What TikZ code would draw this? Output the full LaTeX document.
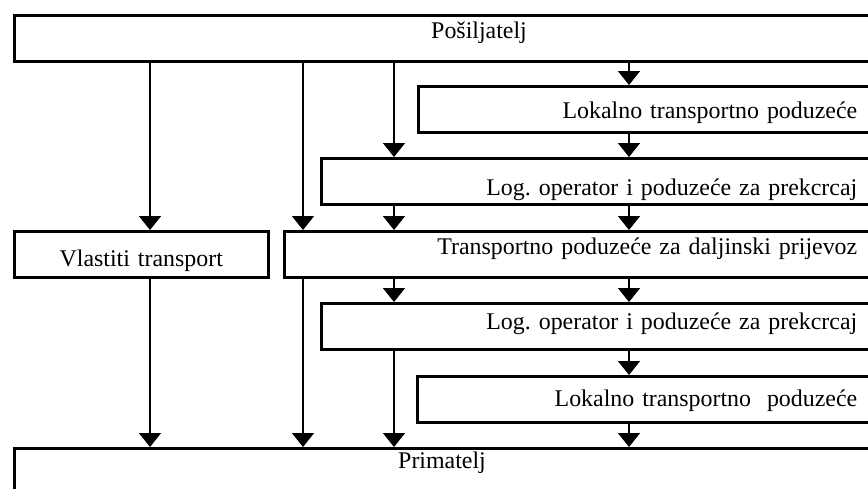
\documentclass[tikz,border=0pt]{standalone}
\usepackage{fontspec}
\setmainfont{Liberation Serif}
\usetikzlibrary{arrows.meta}

\begin{document}
\begin{tikzpicture}[
	x=0.02cm, y=-0.02cm,
	box/.style={rectangle, draw, line width=1.5pt, anchor=north west, inner xsep=0.48cm, inner ysep=0pt, font=\fontsize{13.6}{16}\selectfont},
	flow/.style={->, line width=0.8pt},
	>={Triangle[width=0.44cm, length=0.28cm]},
]
	\useasboundingbox (0,0) rectangle (868,488);
	\clip (0,0) rectangle (868,488);

	% Sender
	\node[box, text width=16.38cm, align=left, text height=0.46cm, text depth=0.46cm] (posi) at (13,14) {\hspace*{7.86cm}Pošiljatelj};

	% Upper chain
	\node[box, text width=8.30cm, align=right, text height=0.64cm, text depth=0.28cm] (lok1) at (417,85) {Lokalno transportno poduzeće};
	\node[box, text width=10.24cm, align=right, text height=0.74cm, text depth=0.18cm] (log1) at (320,157) {Log.\ operator i poduzeće za prekcrcaj};

	% Middle row
	\node[box, text width=4.12cm, align=center, text height=0.70cm, text depth=0.22cm] (vlas) at (13,230) {Vlastiti transport};
	\node[box, text width=10.98cm, align=right, text height=0.46cm, text depth=0.46cm] (trans) at (283,230) {Transportno poduzeće za daljinski prijevoz};

	% Lower chain
	\node[box, text width=10.24cm, align=right, text height=0.52cm, text depth=0.40cm] (log2) at (320,302) {Log.\ operator i poduzeće za prekcrcaj};
	\node[box, text width=8.32cm, align=right, text height=0.60cm, text depth=0.32cm] (lok2) at (416,375) {Lokalno transportno\ \ poduzeće};

	% Receiver
	\node[box, text width=16.38cm, align=left, text height=0.40cm, text depth=0.52cm] (prim) at (13,447) {\hspace*{7.2cm}Primatelj};

	% Columns of the arrows
	\coordinate (c1) at (150,0);
	\coordinate (c2) at (303,0);
	\coordinate (c3) at (394,0);
	\coordinate (c4) at (629,0);

	% Sender -> first carriers
	\draw[flow] (posi.south -| c1) -- (vlas.north -| c1);
	\draw[flow] (posi.south -| c2) -- (trans.north -| c2);
	\draw[flow] (posi.south -| c3) -- (log1.north -| c3);
	\draw[flow] (posi.south -| c4) -- (lok1.north -| c4);

	% Upper chain
	\draw[flow] (lok1.south -| c4) -- (log1.north -| c4);
	\foreach \c in {c3, c4} {
		\draw[flow] (log1.south -| \c) -- (trans.north -| \c);
		\draw[flow] (trans.south -| \c) -- (log2.north -| \c);
	}

	% Lower chain -> receiver
	\draw[flow] (vlas.south -| c1) -- (prim.north -| c1);
	\draw[flow] (trans.south -| c2) -- (prim.north -| c2);
	\draw[flow] (log2.south -| c3) -- (prim.north -| c3);
	\draw[flow] (log2.south -| c4) -- (lok2.north -| c4);
	\draw[flow] (lok2.south -| c4) -- (prim.north -| c4);
\end{tikzpicture}
\end{document}
